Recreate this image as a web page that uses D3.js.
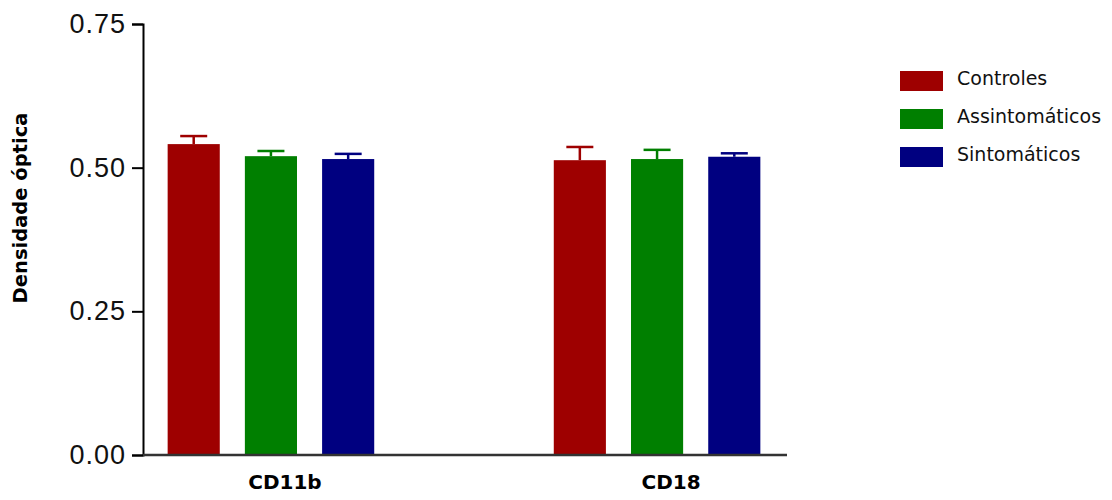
<!DOCTYPE html>
<html><head><meta charset="utf-8">
<script src="https://cdn.jsdelivr.net/npm/d3@7"></script>
<style>body{margin:0;background:#fff}</style>
</head><body>
<svg id="c" width="1112" height="500"></svg>
<script>
const categories = ["CD11b", "CD18"];
const seriesNames = ["Controles", "Assintomáticos", "Sintomáticos"];
const seriesColors = ["#9e0000", "#007f00", "#000080"];
const controles = [0.541, 0.513];
const assintomaticos = [0.520, 0.515];
const sintomaticos = [0.515, 0.519];
const errControles = [0.014, 0.023];
const errAssintomaticos = [0.009, 0.016];
const errSintomaticos = [0.009, 0.006];
const yTicks = [0, 0.25, 0.5, 0.75];
const yTitle = "Densidade óptica";

const values = [controles, assintomaticos, sintomaticos];
const errors = [errControles, errAssintomaticos, errSintomaticos];

const svg = d3.select("#c");
const x0 = d3.scaleBand().domain(categories).range([141, 787]).paddingInner(0.465).paddingOuter(0.069);
const x1 = d3.scaleBand().domain(seriesNames).range([0, x0.bandwidth()]).paddingInner(0.325).paddingOuter(0);
const y = d3.scaleLinear().domain([0, 0.75]).range([455, 24]);

const data = [];
categories.forEach((c, ci) => seriesNames.forEach((s, si) => data.push({c, s, si, v: values[si][ci], e: errors[si][ci]})));

// error bars
const eb = svg.append("g");
data.forEach(d => {
  const cx = x0(d.c) + x1(d.s) + x1.bandwidth() / 2;
  eb.append("line").attr("x1", cx).attr("x2", cx).attr("y1", y(d.v)).attr("y2", y(d.v + d.e))
    .attr("stroke", seriesColors[d.si]).attr("stroke-width", 2.5);
  eb.append("line").attr("x1", cx - 13.5).attr("x2", cx + 13.5).attr("y1", y(d.v + d.e)).attr("y2", y(d.v + d.e))
    .attr("stroke", seriesColors[d.si]).attr("stroke-width", 2.5);
});

svg.append("g").selectAll("rect").data(data).join("rect")
  .attr("x", d => x0(d.c) + x1(d.s))
  .attr("width", x1.bandwidth())
  .attr("y", d => y(d.v))
  .attr("height", d => y(0) - y(d.v))
  .attr("fill", d => seriesColors[d.si]);

// y axis
const ya = svg.append("g").attr("transform", "translate(143,0)")
  .call(d3.axisLeft(y).tickValues(yTicks).tickFormat(d3.format(".2f")).tickSize(11).tickPadding(6));
ya.select(".domain").attr("stroke", "#000").attr("stroke-width", 2);
ya.selectAll(".tick line").attr("stroke", "#000").attr("stroke-width", 2);
ya.selectAll(".tick text").attr("font-family", "Liberation Sans, Arial, sans-serif").attr("font-size", 27)
  .attr("fill", "#111").attr("letter-spacing", "1px");

// x axis
const xa = svg.append("g").attr("transform", "translate(0,455)")
  .call(d3.axisBottom(x0).tickSize(0).tickSizeOuter(0).tickPadding(20));
xa.select(".domain").attr("stroke", "#333").attr("stroke-width", 2.5).attr("d", "M143,0H787");
xa.selectAll(".tick text").attr("font-family", "DejaVu Sans, Verdana, sans-serif").attr("font-size", 20)
  .attr("font-weight", "bold").attr("fill", "#000").attr("dx", 14);

// y title
svg.append("text").attr("transform", "translate(27,208) rotate(-90)").attr("text-anchor", "middle")
  .attr("font-family", "DejaVu Sans, Verdana, sans-serif").attr("font-size", 19.5).attr("font-weight", "bold")
  .text(yTitle);

// legend
const lg = svg.append("g");
seriesNames.forEach((s, i) => {
  const yy = 81 + i * 38;
  lg.append("rect").attr("x", 900).attr("y", yy - 10).attr("width", 43).attr("height", 20).attr("fill", seriesColors[i]);
  lg.append("text").attr("x", 957).attr("y", yy + 4)
    .attr("font-family", "DejaVu Sans, Verdana, sans-serif").attr("font-size", 19).attr("fill", "#111").text(s);
});
</script>
</body></html>
